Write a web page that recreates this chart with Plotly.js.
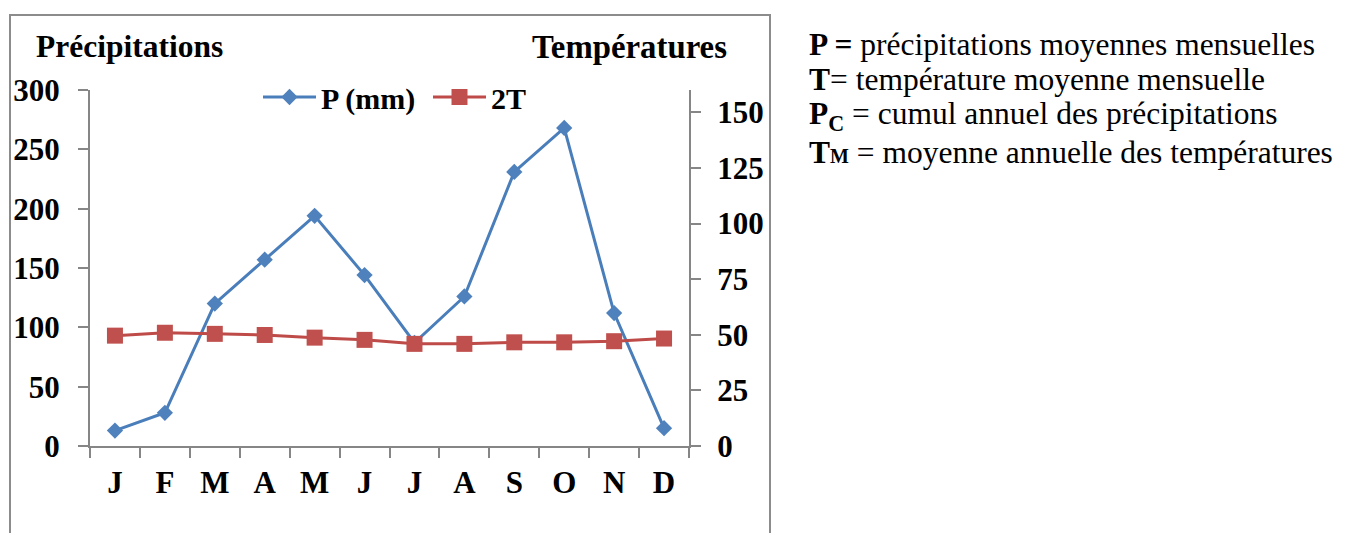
<!DOCTYPE html>
<html>
<head>
<meta charset="utf-8">
<script src="https://cdn.plot.ly/plotly-3.0.1.min.js"></script>
<style>
  html, body { margin: 0; padding: 0; background: #ffffff; }
  #chart { width: 1354px; height: 533px; }
</style>
</head>
<body>
<div id="chart"></div>
<script>
// Mois de l'année (initiales)
const months = ['J', 'F', 'M', 'A', 'M', 'J', 'J', 'A', 'S', 'O', 'N', 'D'];
// Précipitations moyennes mensuelles (mm)
const precip = [13, 28, 120, 157, 194, 144, 87, 126, 231, 268, 112, 15];
// Double de la température moyenne mensuelle
const twoT = [49.6, 50.9, 50.4, 49.9, 48.7, 47.7, 45.9, 45.9, 46.6, 46.6, 47.1, 48.3];
// Graduations des deux axes verticaux
const leftTicks = [0, 50, 100, 150, 200, 250, 300];
const rightTicks = [0, 25, 50, 75, 100, 125, 150];

const monthIdx = months.map((_, i) => i);

const serif = '"Liberation Serif", "Times New Roman", serif';
const axisGray = '#868686';

const traces = [
  {
    x: monthIdx, y: precip, name: 'P (mm)', type: 'scatter', mode: 'lines+markers',
    line: { color: '#4A7EBB', width: 3 },
    marker: { symbol: 'diamond', size: 12.5, color: '#4F81BD', line: { width: 0 } },
    yaxis: 'y'
  },
  {
    x: monthIdx, y: twoT, name: '2T', type: 'scatter', mode: 'lines+markers',
    line: { color: '#BE4B48', width: 3 },
    marker: { symbol: 'square', size: 16, color: '#C0504D', line: { width: 0 } },
    yaxis: 'y2'
  }
];

const W = 1354, H = 533;
const L = 90, R = 665, T = 90, B = 87;
const pw = W - L - R, ph = H - T - B;
const px = v => (v - L) / pw;          // pixel -> paper (x)
const py = v => (H - B - v) / ph;      // pixel -> paper (y)

const tickFont = { family: serif, size: 31, color: '#000', weight: 'bold' };
const noteFont = { family: serif, size: 31.5, color: '#000' };

const layout = {
  width: W, height: H,
  margin: { l: L, r: R, t: T, b: B, pad: 0 },
  paper_bgcolor: '#ffffff', plot_bgcolor: '#ffffff',
  showlegend: true,
  legend: {
    orientation: 'h', x: px(258), y: py(97), xanchor: 'left', yanchor: 'middle',
    font: { family: serif, size: 30, color: '#000', weight: 'bold' },
    bgcolor: 'rgba(0,0,0,0)', itemwidth: 53, entrywidth: 102, tracegroupgap: 0
  },
  xaxis: {
    range: [-0.5, 11.5], tickmode: 'array', tickvals: monthIdx, ticktext: months,
    ticks: '', showgrid: false, zeroline: false, showline: true,
    linecolor: axisGray, linewidth: 2, tickfont: tickFont, ticklabelstandoff: 8,
    minor: { tick0: -0.5, dtick: 1, ticks: 'outside', ticklen: 10, tickwidth: 2, tickcolor: axisGray, showgrid: false },
    fixedrange: true
  },
  yaxis: {
    range: [0, 300], tickmode: 'array', tickvals: leftTicks,
    ticks: 'outside', ticklen: 10, tickwidth: 2, tickcolor: axisGray,
    showgrid: false, zeroline: false, showline: true, linecolor: axisGray, linewidth: 2,
    tickfont: tickFont, ticklabelstandoff: 12, fixedrange: true
  },
  yaxis2: {
    range: [0, 160], tickmode: 'array', tickvals: rightTicks, overlaying: 'y', side: 'right',
    ticks: 'outside', ticklen: 10, tickwidth: 2, tickcolor: axisGray,
    showgrid: false, zeroline: false, showline: true, linecolor: axisGray, linewidth: 2,
    tickfont: tickFont, ticklabelstandoff: 10, fixedrange: true
  },
  shapes: [
    { type: 'rect', xref: 'paper', yref: 'paper', x0: px(10), x1: px(770), y0: py(560), y1: py(15),
      line: { color: '#8C8C8C', width: 2 }, fillcolor: 'rgba(0,0,0,0)', layer: 'below' }
  ],
  annotations: [
    { text: '<b>Précipitations</b>', xref: 'paper', yref: 'paper', x: px(34), y: py(47),
      xanchor: 'left', yanchor: 'middle', showarrow: false,
      font: { family: serif, size: 31.5, color: '#000' } },
    { text: '<b>Températures</b>', xref: 'paper', yref: 'paper', x: px(729), y: py(47),
      xanchor: 'right', yanchor: 'middle', showarrow: false,
      font: { family: serif, size: 32.8, color: '#000' } },
    { text: '<b>P =</b> précipitations moyennes mensuelles', xref: 'paper', yref: 'paper',
      x: px(807), y: py(44), xanchor: 'left', yanchor: 'middle', showarrow: false, font: noteFont },
    { text: '<b>T</b>= température moyenne mensuelle', xref: 'paper', yref: 'paper',
      x: px(807), y: py(79), xanchor: 'left', yanchor: 'middle', showarrow: false, font: noteFont },
    { text: '<b>P<sub>C</sub></b> = cumul annuel des précipitations', xref: 'paper', yref: 'paper',
      x: px(807), y: py(116), xanchor: 'left', yanchor: 'middle', showarrow: false, font: noteFont },
    { text: '<b>T<span style="font-size:20px">M</span></b> = moyenne annuelle des températures', xref: 'paper', yref: 'paper',
      x: px(807), y: py(152), xanchor: 'left', yanchor: 'middle', showarrow: false, font: noteFont }
  ]
};

Plotly.newPlot('chart', traces, layout, { displayModeBar: false, staticPlot: true });
</script>
</body>
</html>
